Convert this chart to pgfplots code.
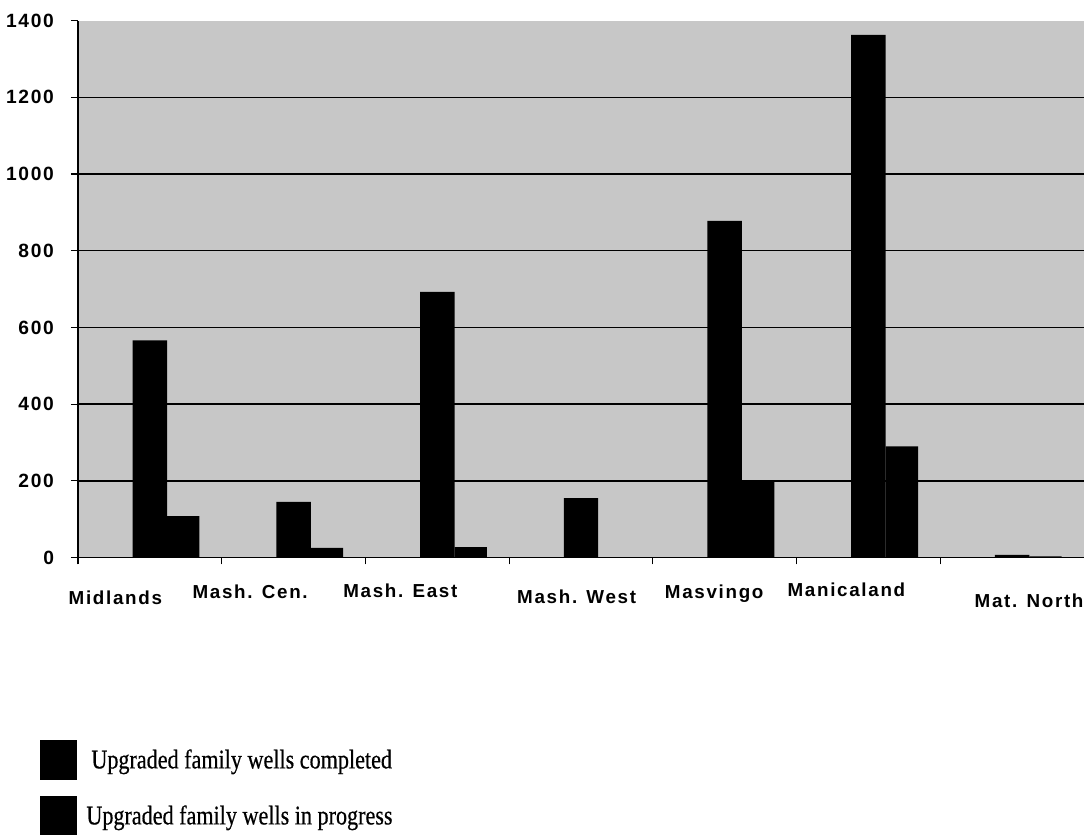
\documentclass[border=0pt]{standalone}
\usepackage{fontspec}
\setmainfont{Liberation Serif}
\newfontfamily\legfont[FakeBold=0.6]{Liberation Serif}
\newfontfamily\arialb[LetterSpace=9]{Liberation Sans}
\usepackage{pgfplots}
\pgfplotsset{compat=1.18}
\begin{document}
\begin{tikzpicture}
\path[use as bounding box] (-39pt,-138.75pt) rectangle (503pt,278.75pt);
\begin{axis}[
  at={(0,0)}, anchor=south west,
  scale only axis, width=503pt, height=268.4pt,
  xmin=-0.5, xmax=6.5, ymin=0, ymax=1400,
  clip=false,
  axis x line*=bottom, axis y line*=left,
  axis line style={-, black, line width=0.6pt},
  axis background/.style={fill=black!22},
  xtick={-0.5,0.5,1.5,2.5,3.5,4.5,5.5},
  xticklabels={},
  ytick={200,400,...,1200},
  extra y ticks={0,1400},
  extra y tick style={grid=none},
  ymajorgrids,
  major grid style={black, line width=0.7pt},
  tick align=outside,
  major tick length=3.5pt,
  tick style={black, line width=0.6pt},
  /pgf/number format/assume math mode=true,
  /pgf/number format/1000 sep={},
  yticklabel style={font=\arialb\bfseries\fontsize{9.6}{11}\selectfont, xshift=-5pt,
    /pgf/number format/1000 sep={}},
  legend style={at={(-0.0378,-0.34)}, anchor=north west, draw=none, fill=none,
    inner sep=0pt, row sep=8pt, font=\legfont\fontsize{13.5}{15}\selectfont,
    cells={anchor=west}},
]
\addplot[ybar, bar width=0.24, bar shift=0, fill=black, draw=none,
  legend image code/.code={\fill[black] (0pt,-10pt) rectangle (18.5pt,10pt);}]
  coordinates {(0,566) (1,145) (2,693) (3,155) (4,878) (5,1363) (6,7)};
\addlegendentry{\hspace{5pt}\scalebox{0.82}[1]{Upgraded family wells completed}}
\addplot[ybar, bar width=0.225, bar shift=0.2325, fill=black, draw=none,
  legend image code/.code={\fill[black] (0pt,-10pt) rectangle (18.5pt,10pt);}]
  coordinates {(0,108) (1,25) (2,27) (3,0) (4,199) (5,290) (6,3)};
\addlegendentry{\hspace{2.5pt}\scalebox{0.82}[1]{Upgraded family wells in progress}}
\begin{scope}[every node/.style={font=\arialb\bfseries\fontsize{9.4}{10}\selectfont, anchor=base, inner sep=0pt}]
\node at (axis cs:-0.24,0) [yshift=-23.75pt] {Midlands};
\node at (axis cs:0.698,0) [yshift=-20.75pt] {Mash. Cen.};
\node at (axis cs:1.743,0) [yshift=-20.25pt] {Mash. East};
\node at (axis cs:2.97,0) [yshift=-23.25pt] {Mash. West};
\node at (axis cs:3.927,0) [yshift=-20.75pt] {Masvingo};
\node at (axis cs:4.847,0) [yshift=-19.75pt] {Manicaland};
\node at (axis cs:6.118,0) [yshift=-25.25pt] {Mat. North};
\end{scope}
\end{axis}
\end{tikzpicture}
\end{document}
